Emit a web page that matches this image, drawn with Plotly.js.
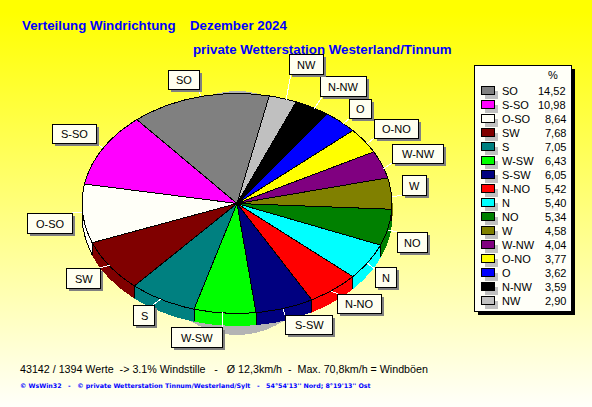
<!DOCTYPE html>
<html><head><meta charset="utf-8">
<script src="https://cdn.plot.ly/plotly-3.0.1.min.js"></script>
<style>
html,body{margin:0;padding:0;width:592px;height:407px;overflow:hidden;background:linear-gradient(180deg,#FFFF00 0%,#FFFF00 3%,#FFFFFA 100%);}
#chart{width:592px;height:407px;}
.main-svg path{shape-rendering:crispEdges;}
</style></head><body><div id="chart"></div>
<script>
const categories=["SO","S-SO","O-SO","SW","S","W-SW","S-SW","N-NO","N","NO","W","W-NW","O-NO","O","N-NW","NW"];
const percentValues=[14.52,10.98,8.64,7.68,7.05,6.43,6.05,5.42,5.40,5.34,4.58,4.04,3.77,3.62,3.59,2.90];
const sliceColors=["#808080","#FF00FF","#FFFFF8","#800000","#008080","#00FF00","#000080","#FF0000","#00FFFF","#008000","#808000","#800080","#FFFF00","#0000FF","#000000","#C0C0C0"];
const titleLine1="Verteilung Windrichtung";
const titleMonth="Dezember 2024";
const titleLine2="private Wetterstation Westerland/Tinnum";
const footerStats="43142 / 1394 Werte  -> 3.1% Windstille   -   Ø 12,3km/h  -  Max. 70,8km/h = Windböen";
const footerCredit="© WsWin32   -   © private Wetterstation Tinnum/Westerland/Sylt   -   54°54'13'' Nord; 8°19'13'' Ost";

// Geometry of the projected pie, in page pixels
const CX=237,CY=203.5,RX=155,RY=110,DEPTH=12,START=12;
const px=t=>CX+RX*Math.sin(t*Math.PI/180);
const py=t=>CY-RY*Math.cos(t*Math.PI/180);
function arc(from,to,dy){const o=[];const n=Math.max(2,Math.ceil(Math.abs(to-from)));
  for(let i=0;i<=n;i++){const t=from+(to-from)*i/n;o.push([px(t),py(t)+dy]);}return o;}

const total=percentValues.reduce((a,b)=>a+b,0);
let angle=START;const spans=percentValues.map(v=>{const a=angle;angle-=v/total*360;return [a,angle];});

const traces=[];
// rim
spans.forEach((s,i)=>{
  const hi=Math.min(s[0],-90),lo=Math.max(s[1],-270);
  if(hi<=lo)return;
  const pts=arc(hi,lo,0).concat(arc(lo,hi,DEPTH));pts.push(pts[0]);
  traces.push({type:"scatter",mode:"lines",fill:"toself",name:categories[i]+" rim",showlegend:false,hoverinfo:"skip",
    x:pts.map(p=>p[0]),y:pts.map(p=>p[1]),fillcolor:sliceColors[i],
    line:{color:categories[i]==="O-SO"?"#000000":sliceColors[i],width:1}});
});
// rim dividers
const dx=[],dy=[];
spans.forEach(s=>{const t=s[1];if(t<-90&&t>-270){dx.push(px(t),px(t),null);dy.push(py(t),py(t)+DEPTH,null);}});
traces.push({type:"scatter",mode:"lines",x:dx,y:dy,showlegend:false,hoverinfo:"skip",line:{color:"#000000",width:1}});
// faces
spans.forEach((s,i)=>{
  const pts=[[CX,CY]].concat(arc(s[0],s[1],0));pts.push([CX,CY]);
  traces.push({type:"scatter",mode:"lines",fill:"toself",name:categories[i],showlegend:false,
    x:pts.map(p=>p[0]),y:pts.map(p=>p[1]),fillcolor:sliceColors[i],line:{color:"#000000",width:1},
    hoverinfo:"text",text:categories[i]+" "+percentValues[i].toFixed(2)});
});

// label boxes [x0,y0,x1,y1] and leader lines [x0,y0,x1,y1], same order as categories
const labelBoxes=[[168,70,199,89],[52,124,96,143],[27,213,72,233],[66,268,100,288],[133,305,154,325],[171,327,222,347],[285,315,332,334],[337,294,381,313],[375,267,396,287],[397,232,427,252],[402,175,426,195],[392,144,443,163],[374,119,418,138],[349,99,371,118],[320,76,366,96],[289,54,323,74]];
const leaders=[[198,89,201,96],[96,143,103,148],[72,213,82,212],[100,268,110,265],[153,305,161,299],[222,327,222,312],[285,315,283,309],[338,294,331,291],[375,269,367,263],[397,232,388,230],[403,195,392,197],[392,163,383,169],[374,138,367,144],[350,118,343,124],[322,97,314,109],[291,74,286,100]];

const shapes=[];const annotations=[];
const rect=(x0,y0,x1,y1,fill,line,layer)=>shapes.push({type:"rect",xref:"x",yref:"y",x0,y0,x1,y1,fillcolor:fill,layer:layer||"above",line:{color:line||fill,width:line?1:0}});
const text=(x,y,t,o)=>annotations.push(Object.assign({xref:"x",yref:"y",x,y,text:t,showarrow:false,xanchor:"left",yanchor:"middle",borderpad:0,borderwidth:0,font:{family:"Liberation Sans, Arial, sans-serif",size:11,color:"#000000"}},o||{}));

// drop shadow of the pie
shapes.push({type:"circle",xref:"x",yref:"y",x0:CX-100,x1:CX+100,y0:91,y1:335,fillcolor:"#B4B4B4",layer:"below",line:{width:0}});

leaders.forEach(l=>shapes.push({type:"line",xref:"x",yref:"y",x0:l[0],y0:l[1],x1:l[2],y1:l[3],layer:"above",line:{color:"#FFFFFF",width:1}}));
labelBoxes.forEach((b,i)=>{
  rect(b[0]+3,b[1]+3,b[2]+3,b[3]+3,"#808080");
  rect(b[0]+.5,b[1]+.5,b[2]+.5,b[3]+.5,"#FFFFF0","#000000");
  text((b[0]+b[2])/2+.5,(b[1]+b[3])/2+.5,categories[i],{xanchor:"center"});
});

// legend
rect(478,69,575,315,"#000000");
rect(474.5,65.5,571.5,311.5,"#FFFFF8","#000000");
text(553,75,"%",{xanchor:"center"});
categories.forEach((c,i)=>{
  const yc=91+14*i;
  rect(485,yc,498,yc+8,"#C0C0C0");
  rect(481.5,yc-4.5,494.5,yc+3.5,sliceColors[i],"#000000");
  text(502,yc,c);
  text(566,yc,percentValues[i].toFixed(2).replace(".",","),{xanchor:"right"});
});

const bold={family:"Liberation Sans, Arial, sans-serif",size:13.3,color:"#0000FF"};
text(22,25.5,"<b>"+titleLine1+"</b>",{font:bold});
text(190,25.5,"<b>"+titleMonth+"</b>",{font:bold});
text(193,49,"<b>"+titleLine2+"</b>",{font:bold});
text(20,369,footerStats,{font:{family:"Liberation Sans, Arial, sans-serif",size:10.7,color:"#000000"}});
text(20,386,"<b>"+footerCredit+"</b>",{font:{family:"DejaVu Sans, sans-serif",size:6.3,color:"#0000FF"}});

Plotly.newPlot("chart",traces,{
  width:592,height:407,margin:{l:0,r:0,t:0,b:0,pad:0},
  paper_bgcolor:"rgba(0,0,0,0)",plot_bgcolor:"rgba(0,0,0,0)",showlegend:false,
  xaxis:{range:[0,592],visible:false,fixedrange:true},
  yaxis:{range:[407,0],visible:false,fixedrange:true},
  shapes,annotations
},{displayModeBar:false});
</script></body></html>
